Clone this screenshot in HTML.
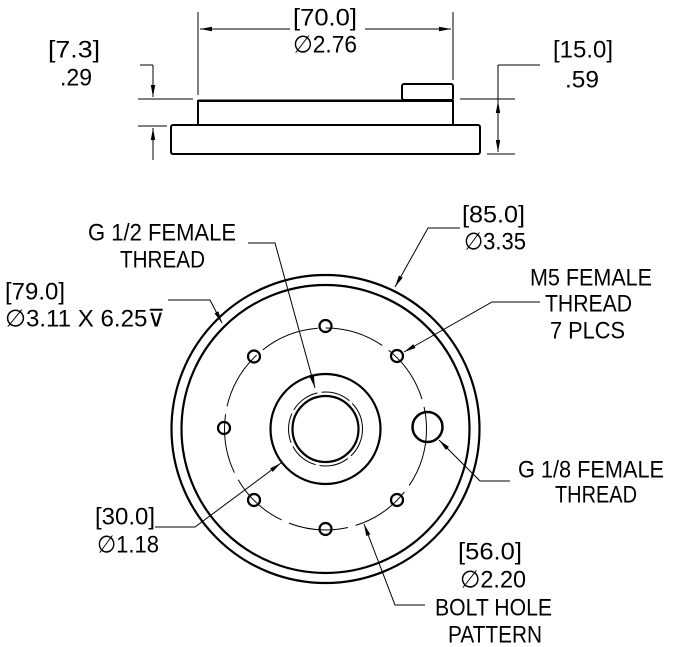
<!DOCTYPE html>
<html><head><meta charset="utf-8"><style>
html,body{margin:0;padding:0;background:#fff;}
svg{display:block;}
text{font-family:"Liberation Sans Narrow","Liberation Sans",sans-serif;font-size:24px;fill:#000;dominant-baseline:central;}
</style></head><body>
<svg width="673" height="647" viewBox="0 0 673 647" xmlns="http://www.w3.org/2000/svg">
<defs>
<marker id="a" markerWidth="12" markerHeight="6" refX="12" refY="3" orient="auto" markerUnits="userSpaceOnUse">
<path d="M0,0.8 L12,3 L0,5.2 Z" fill="#000"/></marker>
</defs>
<g fill="none" stroke="#000" stroke-width="2">
<rect x="171" y="125" width="309" height="29" rx="2"/>
<rect x="198" y="101" width="255" height="24"/>
<line x1="198" y1="100" x2="453" y2="100" stroke-width="1"/>
<rect x="402" y="84" width="51" height="16" rx="2"/>
</g>
<g fill="none" stroke="#000" stroke-width="1">
<line x1="198" y1="12" x2="198" y2="95"/>
<line x1="453" y1="12" x2="453" y2="80"/>
<line x1="290" y1="29" x2="200" y2="29" marker-end="url(#a)"/>
<line x1="365" y1="29" x2="451" y2="29" marker-end="url(#a)"/>
<line x1="138" y1="99" x2="193" y2="99"/>
<line x1="138" y1="126" x2="167" y2="126"/>
<line x1="153" y1="65" x2="153" y2="97" marker-end="url(#a)"/>
<line x1="153" y1="160" x2="153" y2="128" marker-end="url(#a)"/>
<line x1="140" y1="65" x2="153" y2="65"/>
<line x1="460" y1="99" x2="515" y2="99"/>
<line x1="487" y1="154" x2="515" y2="154"/>
<line x1="498" y1="127" x2="498" y2="101" marker-end="url(#a)"/>
<line x1="498" y1="127" x2="498" y2="152" marker-end="url(#a)"/>
<line x1="498" y1="65" x2="498" y2="101"/>
<line x1="498" y1="65" x2="540" y2="65"/>
</g>
<g fill="none" stroke="#000" stroke-width="2.2">
<circle cx="325.5" cy="429" r="154"/>
<circle cx="325.5" cy="429" r="144"/>
<circle cx="325.5" cy="429" r="55"/>
<circle cx="325.5" cy="429" r="33"/>
<circle cx="427.5" cy="427" r="15" stroke-width="2.5"/>
<circle cx="325.5" cy="326" r="6"/>
<circle cx="254" cy="356.5" r="6"/>
<circle cx="397" cy="356" r="6"/>
<circle cx="224" cy="428" r="6"/>
<circle cx="254" cy="500" r="6"/>
<circle cx="397" cy="500" r="6"/>
<circle cx="325.5" cy="529" r="6"/>
</g>
<g fill="none" stroke="#000" stroke-width="1">
<circle cx="325.5" cy="429" r="101" stroke-dasharray="60,8"/>
<circle cx="325.5" cy="429" r="37" stroke-dasharray="30,4"/>
<polyline points="248,243 275,243 315,388" marker-end="url(#a)"/>
<polyline points="460,228 428,228 395,287" marker-end="url(#a)"/>
<polyline points="168,300 210,300 222,323" marker-end="url(#a)"/>
<polyline points="540,302 492,302 404,352" marker-end="url(#a)"/>
<polyline points="510,481 480,481 439,440" marker-end="url(#a)"/>
<polyline points="155,527 195,527 281,463" marker-end="url(#a)"/>
<polyline points="425,605 395,605 364,524" marker-end="url(#a)"/>
</g>
<g>
<text x="325" y="18" text-anchor="middle" textLength="64" lengthAdjust="spacingAndGlyphs">[70.0]</text>
<text x="325" y="45" text-anchor="middle" textLength="64" lengthAdjust="spacingAndGlyphs">∅2.76</text>
<text x="48" y="50" textLength="52" lengthAdjust="spacingAndGlyphs">[7.3]</text>
<text x="60" y="78" textLength="32" lengthAdjust="spacingAndGlyphs">.29</text>
<text x="553" y="50" textLength="60" lengthAdjust="spacingAndGlyphs">[15.0]</text>
<text x="565" y="80" textLength="34" lengthAdjust="spacingAndGlyphs">.59</text>
<text x="88" y="233" textLength="148" lengthAdjust="spacingAndGlyphs">G 1/2 FEMALE</text>
<text x="120" y="260" textLength="85" lengthAdjust="spacingAndGlyphs">THREAD</text>
<text x="462" y="215" textLength="63" lengthAdjust="spacingAndGlyphs">[85.0]</text>
<text x="464" y="242" textLength="62" lengthAdjust="spacingAndGlyphs">∅3.35</text>
<text x="5" y="292" textLength="60" lengthAdjust="spacingAndGlyphs">[79.0]</text>
<text x="5" y="319" textLength="160" lengthAdjust="spacingAndGlyphs">∅3.11 X 6.25⊽</text>
<text x="530" y="278" textLength="122" lengthAdjust="spacingAndGlyphs">M5 FEMALE</text>
<text x="545" y="304" textLength="87" lengthAdjust="spacingAndGlyphs">THREAD</text>
<text x="550" y="331" textLength="75" lengthAdjust="spacingAndGlyphs">7 PLCS</text>
<text x="518" y="470" textLength="146" lengthAdjust="spacingAndGlyphs">G 1/8 FEMALE</text>
<text x="555" y="495" textLength="82" lengthAdjust="spacingAndGlyphs">THREAD</text>
<text x="95" y="517" textLength="60" lengthAdjust="spacingAndGlyphs">[30.0]</text>
<text x="97" y="545" textLength="62" lengthAdjust="spacingAndGlyphs">∅1.18</text>
<text x="458" y="552" textLength="64" lengthAdjust="spacingAndGlyphs">[56.0]</text>
<text x="460" y="580" textLength="66" lengthAdjust="spacingAndGlyphs">∅2.20</text>
<text x="435" y="608" textLength="117" lengthAdjust="spacingAndGlyphs">BOLT HOLE</text>
<text x="448" y="635" textLength="94" lengthAdjust="spacingAndGlyphs">PATTERN</text>
</g>
</svg>
</body></html>
